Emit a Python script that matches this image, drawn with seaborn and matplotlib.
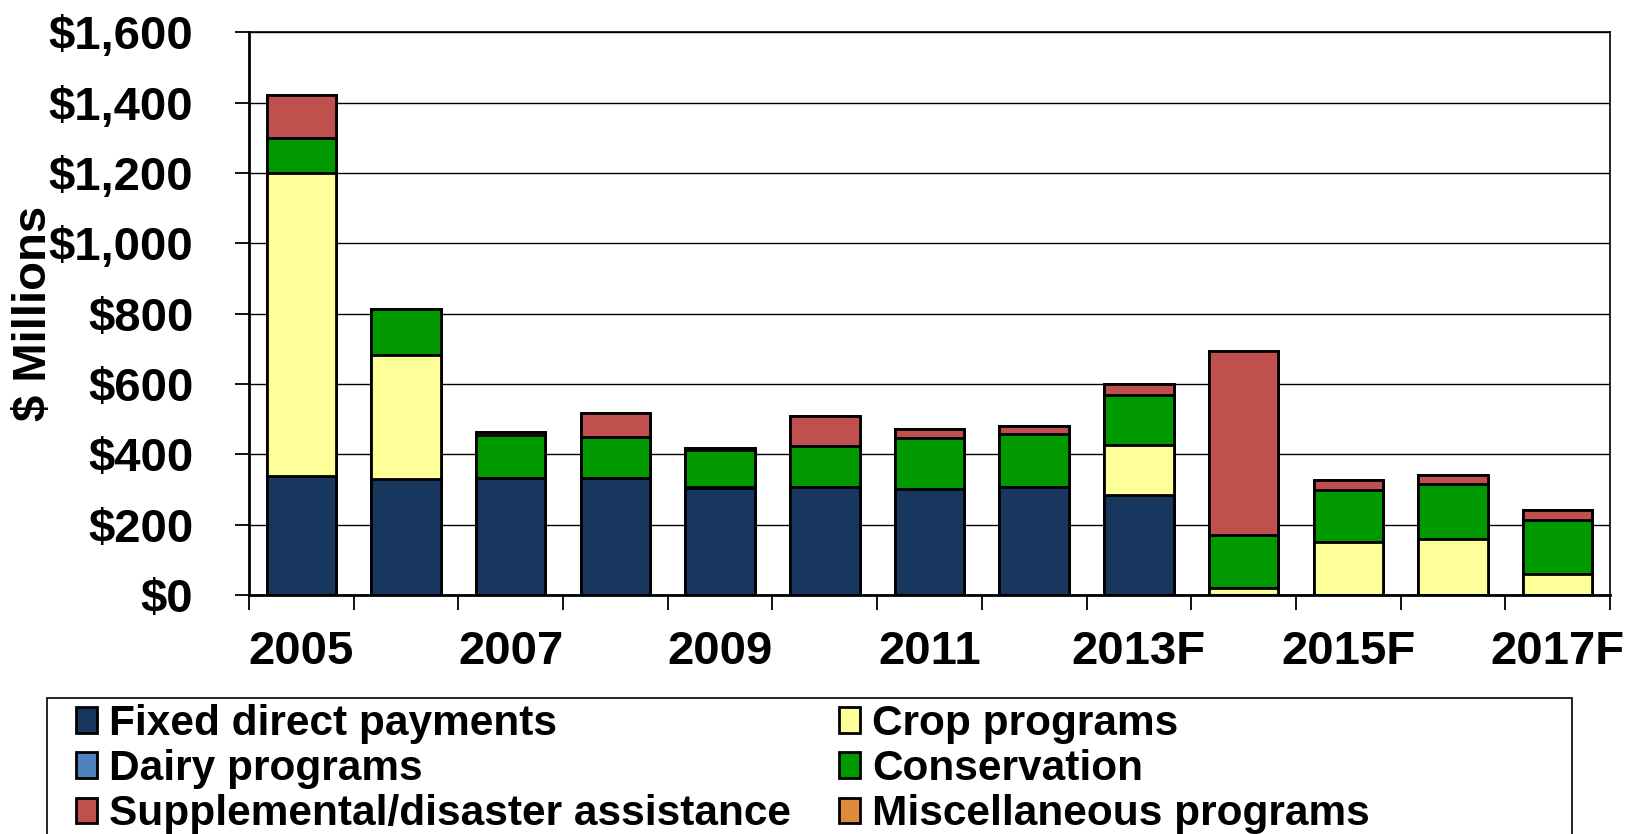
import numpy as np
import pandas as pd
import matplotlib
matplotlib.use("Agg")
import matplotlib.pyplot as plt
from matplotlib.patches import Patch, Rectangle
from matplotlib.ticker import FuncFormatter
import seaborn as sns

years = ['2005', '2006', '2007', '2008', '2009', '2010', '2011', '2012',
         '2013F', '2014F', '2015F', '2016F', '2017F']
fixed_direct = [338, 330, 334, 333, 305, 308, 301, 306, 284, 0, 0, 0, 0]
crop_programs = [861, 353, 0, 0, 0, 0, 0, 0, 143, 19, 150, 158, 60]
dairy_programs = [0, 0, 0, 0, 3, 0, 0, 0, 0, 0, 0, 0, 0]
conservation = [102, 129, 120, 116, 105, 116, 145, 152, 142, 152, 150, 157, 154]
supplemental = [121, 0, 9, 69, 5, 86, 25, 23, 30, 524, 26, 26, 28]
miscellaneous = [0, 0, 0, 0, 0, 0, 0, 0, 0, 0, 0, 0, 0]

series_names = ['Fixed direct payments', 'Crop programs', 'Dairy programs',
                'Conservation', 'Supplemental/disaster assistance',
                'Miscellaneous programs']
series_values = [fixed_direct, crop_programs, dairy_programs, conservation,
                 supplemental, miscellaneous]
colors = {'Fixed direct payments': '#17375E',
          'Crop programs': '#FFFF99',
          'Dairy programs': '#4F81BD',
          'Conservation': '#009900',
          'Supplemental/disaster assistance': '#C0504D',
          'Miscellaneous programs': '#E08A3C'}

sns.set_style('white')
plt.rcParams['font.family'] = ['Liberation Sans', 'DejaVu Sans']
plt.rcParams['font.weight'] = 'bold'
plt.rcParams['text.color'] = 'black'
plt.rcParams['axes.labelcolor'] = 'black'
plt.rcParams['xtick.color'] = 'black'
plt.rcParams['ytick.color'] = 'black'

fig = plt.figure(figsize=(16.4, 8.34), dpi=100)
ax = fig.add_axes([249 / 1640, 1 - 595 / 834, (1610 - 249) / 1640, (595 - 32.4) / 834])

# stacked: draw cumulative totals from the top down
df = pd.DataFrame(dict(zip(series_names, series_values)), index=years)
cum = df.cumsum(axis=1)
for name in reversed(series_names):
    sns.barplot(x=years, y=cum[name].values, order=years, color=colors[name],
                saturation=1, edgecolor='black', linewidth=2, width=0.663,
                errorbar=None, ax=ax, zorder=3)

ax.set_xlim(-0.5, len(years) - 0.5)
ax.set_ylim(0, 1600)
ax.set_yticks(np.arange(0, 1601, 200))
ax.yaxis.set_major_formatter(FuncFormatter(lambda v, p: f'${v:,.0f}'))
ax.set_xticks(range(0, len(years), 2))
ax.set_xticklabels(years[::2])
ax.set_xticks(np.arange(-0.5, len(years), 1), minor=True)

ax.tick_params(axis='y', which='major', direction='out', length=10, width=1.3,
               color='black', labelcolor='black', pad=30, labelsize=34, left=True)
ax.tick_params(axis='x', which='major', length=0, pad=25, labelsize=34,
               labelcolor='black')
ax.tick_params(axis='x', which='minor', direction='out', length=10.8, width=1.3,
               color='black', bottom=True)
for lab in ax.get_xticklabels() + ax.get_yticklabels():
    lab.set_fontweight('bold')

ax.grid(axis='y', color='black', linewidth=1, zorder=0)
ax.grid(axis='x', visible=False)
ax.set_axisbelow(True)
for s in ['left', 'bottom']:
    ax.spines[s].set_linewidth(2)
for s in ['top', 'right']:
    ax.spines[s].set_linewidth(1.2)
for s in ax.spines.values():
    s.set_color('black')
    s.set_visible(True)
    s.set_zorder(4)

ax.set_xlabel('')
ax.set_ylabel('$ Millions', fontsize=34, fontweight='bold', va='center',
              color='black')
ax.yaxis.set_label_coords((34 - 249) / 1361, 0.5)

legend_order = ['Fixed direct payments', 'Dairy programs',
                'Supplemental/disaster assistance', 'Crop programs',
                'Conservation', 'Miscellaneous programs']
handles = [Patch(facecolor=colors[n], edgecolor='black', linewidth=2, label=n)
           for n in legend_order]
leg = fig.legend(handles=handles, loc='upper left',
                 bbox_to_anchor=(76 / 1640, 1 - 704 / 834),
                 ncol=2, frameon=False, borderpad=0,
                 borderaxespad=0, handlelength=0.5, handleheight=0.54,
                 handletextpad=0.28, columnspacing=1.13, labelspacing=0.12,
                 prop={'weight': 'bold', 'size': 30.5})
for t in leg.get_texts():
    t.set_color('black')
fig.patches.append(Rectangle((47 / 1640, -0.1), (1572 - 47) / 1640,
                             0.1 + 1 - 698 / 834, transform=fig.transFigure,
                             fill=False, edgecolor='black', linewidth=1.2))

fig.savefig('out.png', dpi=100)
